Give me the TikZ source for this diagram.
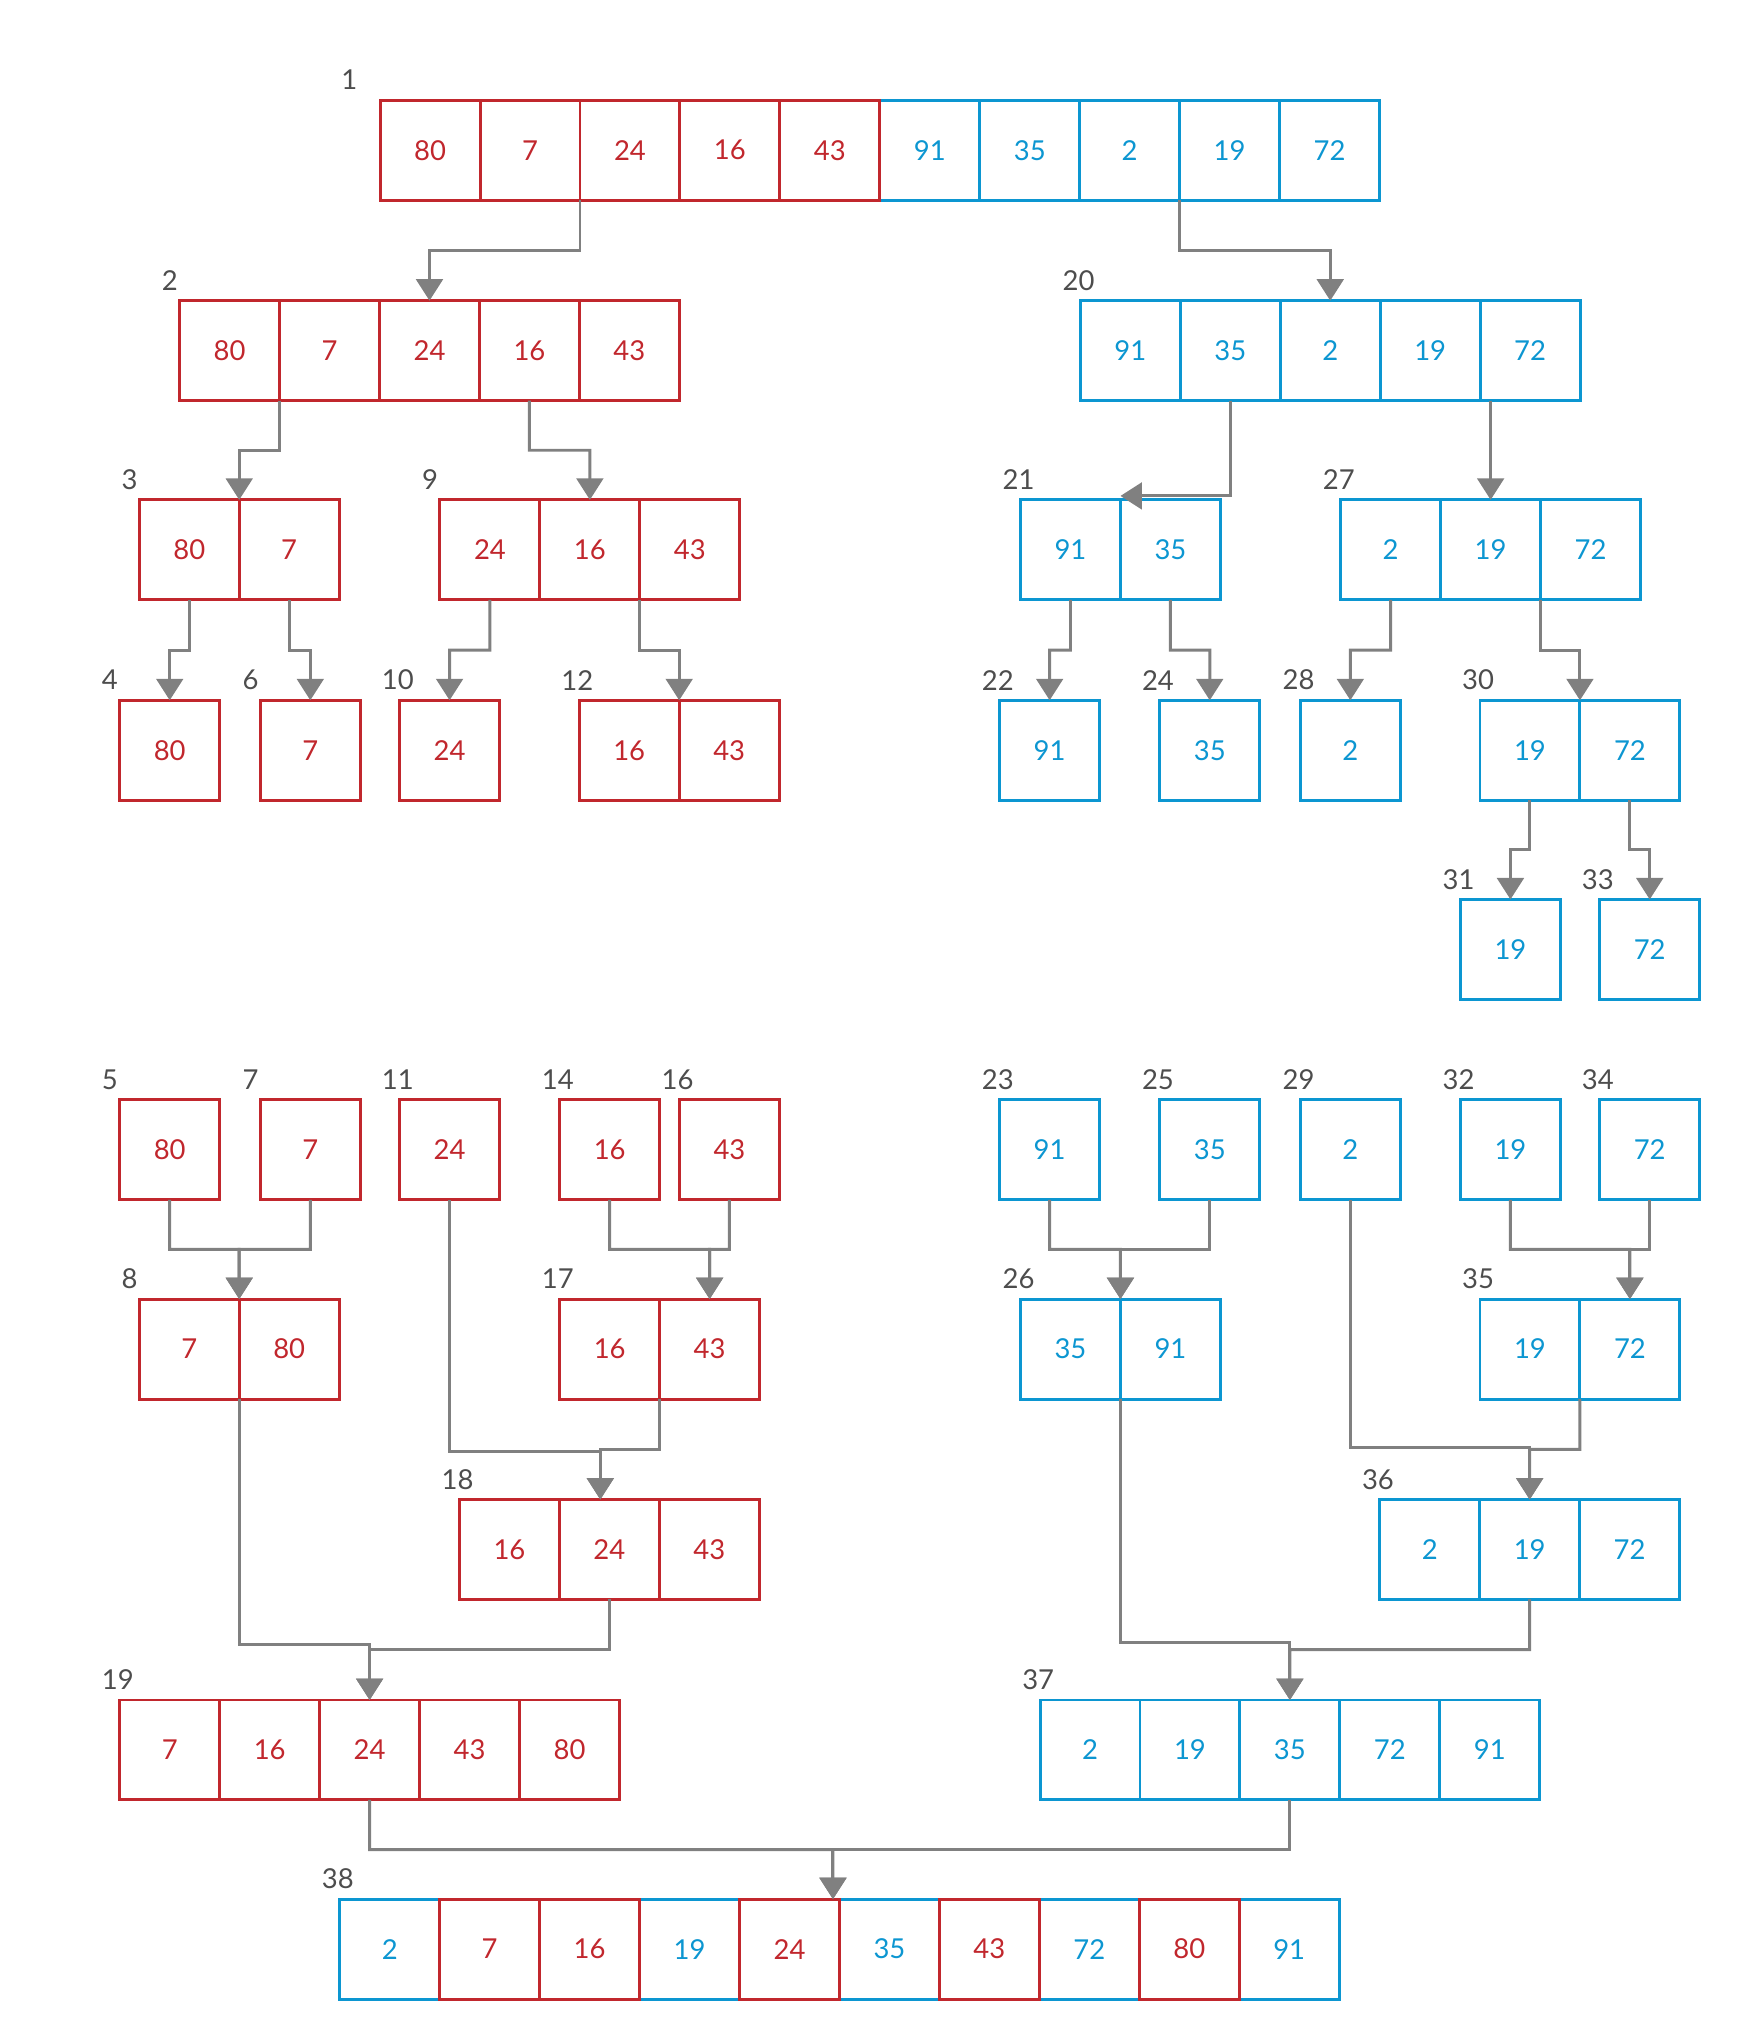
\documentclass[tikz,border=0pt]{standalone}
\usepackage{fontspec}
\setmainfont{Lato}
\usepackage{tikz}
\usetikzlibrary{arrows.meta}
\usetikzlibrary{positioning}
\usetikzlibrary{calc}

\definecolor{sortred}{RGB}{193,39,45}
\definecolor{sortblue}{RGB}{12,150,209}
\definecolor{linkgray}{RGB}{128,128,128}
\definecolor{labelgray}{RGB}{77,77,77}

\tikzset{
	cell/.style={draw,line width=1.3pt,minimum width=1.536cm,minimum height=1.536cm,inner sep=0pt,outer sep=0pt,font=\fontsize{12}{14}\selectfont},
	rd/.style={draw=sortred,text=sortred},
	bl/.style={draw=sortblue,text=sortblue},
	rdtop/.style={draw=sortred,line width=1.3pt},
	bltop/.style={draw=none},
	numlabel/.style={anchor=west,inner sep=0pt,text=labelgray,font=\fontsize{12}{14}\selectfont},
	link/.style={draw=linkgray,line width=1.3pt,-{Triangle[length=0.33cm,width=0.41cm]}},
	elbow/.style={to path={-- ($(\tikztostart)!.5!(\tikztostart|-\tikztotarget)$) -| (\tikztotarget)}},
	merge/.style={to path={|- ($(\tikztotarget)+(0,-#1)$) -- (\tikztotarget)}}
}

% \arr[label offset]{number}{top left}{value/colour,...}
\newcommand{\arr}[4][-14]{%
	\foreach \v/\c [count=\i] in {#4}{
		\ifnum\i=1
			\node[cell,\c,anchor=north west] (a#2-\i) at (#3) {\v};
		\else
			\pgfmathtruncatemacro{\j}{\i-1}
			\node[cell,\c,right=0pt of a#2-\j] (a#2-\i) {\v};
		\fi
	}
	\foreach \v/\c [count=\i] in {#4}
		\draw[\c top] (a#2-\i.north west) rectangle (a#2-\i.south east);
	\node[numlabel] (l#2) at ($(a#2-1.north west)+(#1,-15.5)$) {#2};
}

\begin{document}
\begin{tikzpicture}[x=0.02cm,y=-0.02cm]
	\useasboundingbox (0,0) rectangle (1337,1568);

	% splitting
	\arr[-30]{1}{292,77}{80/rd,7/rd,24/rd,16/rd,43/rd,91/bl,35/bl,2/bl,19/bl,72/bl}
	\arr{2}{138,231}{80/rd,7/rd,24/rd,16/rd,43/rd}
	\arr{20}{830,231}{91/bl,35/bl,2/bl,19/bl,72/bl}
	\arr{3}{107,384}{80/rd,7/rd}
	\arr{9}{338,384}{24/rd,16/rd,43/rd}
	\arr{21}{784,384}{91/bl,35/bl}
	\arr{27}{1030,384}{2/bl,19/bl,72/bl}
	\arr{4}{92,538}{80/rd}
	\arr{6}{200,538}{7/rd}
	\arr{10}{307,538}{24/rd}
	\arr{12}{445,538}{16/rd,43/rd}
	\arr{22}{768,538}{91/bl}
	\arr{24}{891,538}{35/bl}
	\arr{28}{999,538}{2/bl}
	\arr{30}{1137,538}{19/bl,72/bl}
	\arr{31}{1122,691}{19/bl}
	\arr{33}{1229,691}{72/bl}

	% merging
	\arr{5}{92,845}{80/rd}
	\arr{7}{200,845}{7/rd}
	\arr{11}{307,845}{24/rd}
	\arr{14}{430,845}{16/rd}
	\arr{16}{522,845}{43/rd}
	\arr{23}{768,845}{91/bl}
	\arr{25}{891,845}{35/bl}
	\arr{29}{999,845}{2/bl}
	\arr{32}{1122,845}{19/bl}
	\arr{34}{1229,845}{72/bl}
	\arr{8}{107,998}{7/rd,80/rd}
	\arr{17}{430,998}{16/rd,43/rd}
	\arr{26}{784,998}{35/bl,91/bl}
	\arr{35}{1137,998}{19/bl,72/bl}
	\arr{18}{353,1152}{16/rd,24/rd,43/rd}
	\arr{36}{1060,1152}{2/bl,19/bl,72/bl}
	\arr{19}{92,1306}{7/rd,16/rd,24/rd,43/rd,80/rd}
	\arr{37}{799,1306}{2/bl,19/bl,35/bl,72/bl,91/bl}
	\arr{38}{261,1459}{2/bl,7/rd,16/rd,19/bl,24/rd,35/bl,43/rd,72/bl,80/rd,91/bl}

	\coordinate (in21) at ($(a21-1.north east)+(0,-3)$);
	\coordinate (in18) at ($(a18-2.north)+(-7,0)$);
	\coordinate (in38) at ($(a38-5.north east)+(-5,0)$);

	\draw[link] (a1-2.south east) to[elbow] (a2-3.north);
	\draw[link] (a1-8.south east) to[elbow] (a20-3.north);
	\draw[link] (a2-1.south east) to[elbow] (a3-1.north east);
	\draw[link] (a2-4.south) to[elbow] (a9-2.north);
	\draw[link] (a20-2.south) |- (in21);
	\draw[link] (a27-2.north |- a20-5.south) -- (a27-2.north);
	\draw[link] (a3-1.south) to[elbow] (a4-1.north);
	\draw[link] (a3-2.south) to[elbow] (a6-1.north);
	\draw[link] (a9-1.south) to[elbow] (a10-1.north);
	\draw[link] (a9-2.south east) to[elbow] (a12-1.north east);
	\draw[link] (a21-1.south) to[elbow] (a22-1.north);
	\draw[link] (a21-2.south) to[elbow] (a24-1.north);
	\draw[link] (a27-1.south) to[elbow] (a28-1.north);
	\draw[link] (a27-2.south east) to[elbow] (a30-1.north east);
	\draw[link] (a30-1.south) to[elbow] (a31-1.north);
	\draw[link] (a30-2.south) to[elbow] (a33-1.north);

	\draw[link] (a5-1.south) to[elbow] (a8-1.north east);
	\draw[link] (a7-1.south) to[elbow] (a8-1.north east);
	\draw[link] (a14-1.south) to[elbow] (a17-2.north);
	\draw[link] (a16-1.south) to[elbow] (a17-2.north);
	\draw[link] (a11-1.south) to[merge=37] (in18);
	\draw[link] (a17-1.south east) to[elbow] (in18);
	\draw[link] (a8-1.south east) to[merge=43] (a19-3.north);
	\draw[link] (a18-2.south) to[elbow] (a19-3.north);
	\draw[link] (a23-1.south) to[elbow] (a26-1.north east);
	\draw[link] (a25-1.south) to[elbow] (a26-1.north east);
	\draw[link] (a32-1.south) to[elbow] (a35-2.north);
	\draw[link] (a34-1.south) to[elbow] (a35-2.north);
	\draw[link] (a29-1.south) to[merge=40] (a36-2.north);
	\draw[link] (a35-1.south east) to[elbow] (a36-2.north);
	\draw[link] (a26-1.south east) to[merge=44] (a37-3.north);
	\draw[link] (a36-2.south) to[elbow] (a37-3.north);
	\draw[link] (a19-3.south) to[elbow] (in38);
	\draw[link] (a37-3.south) to[elbow] (in38);
\end{tikzpicture}
\end{document}
